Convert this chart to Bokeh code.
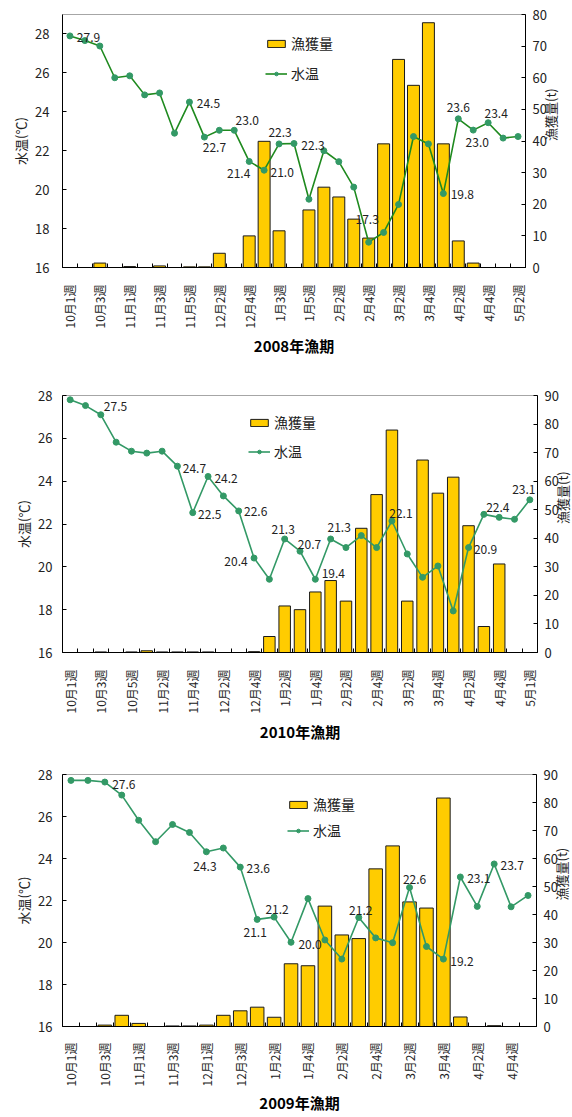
import math
from bokeh.plotting import figure
from bokeh.models import Range1d, LinearAxis, FixedTicker, Legend, LegendItem
from bokeh.layouts import column
from bokeh.embed import file_html
from bokeh.resources import INLINE
from bokeh.core.properties import value

FONT = "Noto Sans CJK JP"

# ---------------- 2008年漁期 ----------------
weeks_2008 = ["10月1週", "10月2週", "10月3週", "10月4週", "11月1週", "11月2週", "11月3週",
              "11月4週", "11月5週", "12月1週", "12月2週", "12月3週", "12月4週", "1月2週",
              "1月3週", "1月4週", "1月5週", "2月1週", "2月2週", "2月3週", "2月4週", "3月1週",
              "3月2週", "3月3週", "3月4週", "4月1週", "4月2週", "4月3週", "4月4週", "5月1週",
              "5月2週"]
catch_2008 = [0, 0, 1.4, 0, 0.3, 0, 0.5, 0, 0.2, 0.2, 4.5, 0, 10.0, 39.9, 11.6, 0, 18.2,
              25.4, 22.3, 15.3, 9.3, 39.1, 65.8, 57.6, 77.4, 39.1, 8.4, 1.4, 0, 0, 0]
temp_2008 = [27.9, 27.66, 27.38, 25.75, 25.85, 24.87, 24.97, 22.9, 24.5, 22.7, 23.05, 23.05,
             21.45, 21.0, 22.35, 22.37, 19.51, 22.0, 21.44, 20.13, 17.3, 17.8, 19.24, 22.73,
             22.35, 19.8, 23.64, 23.06, 23.44, 22.65, 22.73]
label_cat_2008 = [1, 9, 10, 12, 13, 14, 15, 16, 21, 26, 27, 28, 29]
label_text_2008 = ["27.9", "24.5", "22.7", "23.0", "21.4", "21.0", "22.3", "22.3", "17.3",
                   "19.8", "23.6", "23.0", "23.4"]

# ---------------- 2010年漁期 ----------------
weeks_2010 = ["10月1週", "10月2週", "10月3週", "10月4週", "10月5週", "11月1週", "11月2週",
              "11月3週", "11月4週", "12月1週", "12月2週", "12月3週", "12月4週", "1月1週",
              "1月2週", "1月3週", "1月4週", "2月1週", "2月2週", "2月3週", "2月4週", "3月1週",
              "3月2週", "3月3週", "3月4週", "4月1週", "4月2週", "4月3週", "4月4週", "4月5週",
              "5月1週"]
catch_2010 = [0, 0, 0.2, 0, 0.2, 0.6, 0.2, 0.2, 0.2, 0.2, 0, 0, 0.3, 5.6, 16.3, 15.0, 21.2,
              25.2, 18.0, 43.5, 55.3, 77.9, 18.0, 67.4, 55.8, 61.4, 44.4, 9.1, 31.0, 0, 0]
temp_2010 = [27.80, 27.53, 27.10, 25.82, 25.40, 25.31, 25.40, 24.70, 22.53, 24.22, 23.31,
             22.61, 20.41, 19.42, 21.30, 20.73, 19.42, 21.30, 20.90, 21.46, 20.90, 22.14,
             20.60, 19.51, 20.04, 17.94, 20.90, 22.45, 22.31, 22.22, 23.13]
label_cat_2010 = [2, 8, 9, 10, 12, 13, 15, 16, 17, 18, 22, 27, 28, 31]
label_text_2010 = ["27.5", "24.7", "22.5", "24.2", "22.6", "20.4", "21.3", "20.7", "19.4",
                   "21.3", "22.1", "20.9", "22.4", "23.1"]

# ---------------- 2009年漁期 ----------------
weeks_2009 = ["10月1週", "10月2週", "10月3週", "10月4週", "11月1週", "11月2週", "11月3週",
              "11月4週", "12月1週", "12月2週", "12月3週", "12月4週", "1月2週", "1月3週",
              "1月4週", "2月1週", "2月2週", "2月3週", "2月4週", "3月1週", "3月2週", "3月3週",
              "3月4週", "4月1週", "4月2週", "4月3週", "4月4週", "4月5週"]
catch_2009 = [0, 0, 0.5, 4.0, 1.1, 0, 0.2, 0.2, 0.5, 4.0, 5.6, 6.9, 3.3, 22.4, 21.7, 43.0,
              32.7, 31.4, 56.3, 64.5, 44.5, 42.3, 81.6, 3.4, 0, 0.3, 0, 0]
temp_2009 = [27.72, 27.72, 27.64, 27.02, 25.82, 24.80, 25.62, 25.24, 24.32, 24.50, 23.59,
             21.10, 21.21, 20.01, 22.09, 20.12, 19.21, 21.19, 20.22, 19.99, 22.62, 19.81,
             19.21, 23.12, 21.72, 23.74, 21.70, 22.24]
label_cat_2009 = [3, 9, 11, 12, 13, 14, 18, 21, 23, 24, 26]
label_text_2009 = ["27.6", "24.3", "23.6", "21.1", "21.2", "20.0", "21.2", "22.6", "19.2",
                   "23.1", "23.7"]

# label screen offsets (style only): (dx, dy) in px, dy positive = down
off_2008 = [(18.5, 2), (19, 1), (10, 10), (13, -10), (-10.5, 12), (18, 2), (1, -11), (19, 2),
            (-1.5, -23), (19, 1), (0, -11), (4, 12), (8, -9)]
off_2010 = [(30, 1), (17, 2), (17, 2), (18, 2), (17, 1), (-18, 3), (-1.5, -9), (9.5, -7),
            (18, -6), (8.5, -11), (9, -8), (17, 2), (14, -7), (-6, -10)]
off_2009 = [(19, 2), (-1.5, 15), (18, 1), (-2, 13), (3, -8), (19, 2), (2, -7), (5, -8),
            (18.5, 2), (18.5, 2), (18, 2)]

VERT = math.pi / 2


def panel(weeks, catch, temp, lab_cat, lab_text, lab_off, title, tmax, cmax,
          fw, fh, bl, br, bt, bb, line_col, mark_col, leg_loc, leg_sp, lstand,
          xstand, tstand, bar_w):
    n = len(weeks)
    xs = list(range(1, n + 1))
    p = figure(frame_width=fw, frame_height=fh, x_range=Range1d(0.5, n + 0.5),
               y_range=Range1d(16, tmax), output_backend="svg", toolbar_location=None,
               min_border_left=bl, min_border_right=br, min_border_top=bt,
               min_border_bottom=bb)
    p.background_fill_color = "white"
    p.border_fill_color = "white"
    p.outline_line_color = "#a6a6a6"
    p.xgrid.visible = False
    p.ygrid.visible = False
    p.extra_y_ranges = {"catch": Range1d(0, cmax)}

    # x axis
    xa = p.xaxis[0]
    xa.ticker = FixedTicker(ticks=xs[::2], minor_ticks=[x - 0.5 for x in xs] + [n + 0.5])
    xa.major_label_overrides = {x: weeks[x - 1] for x in xs[::2]}
    xa.major_label_orientation = VERT
    xa.major_tick_line_color = None
    xa.minor_tick_in = 4
    xa.minor_tick_out = 0
    xa.minor_tick_line_color = "black"
    xa.axis_line_color = "black"
    xa.major_label_standoff = xstand
    xa.major_label_text_font = FONT
    xa.major_label_text_font_size = "12px"
    xa.major_label_text_color = "#222222"
    xa.axis_label = title
    xa.axis_label_text_font = FONT
    xa.axis_label_text_font_size = "15px"
    xa.axis_label_text_font_style = "bold"
    xa.axis_label_text_color = "black"
    xa.axis_label_standoff = tstand

    # left axis
    ya = p.yaxis[0]
    ya.ticker = FixedTicker(ticks=list(range(16, 29, 2)))
    ya.major_tick_in = 4
    ya.major_tick_out = 0
    ya.minor_tick_line_color = None
    ya.axis_line_color = "black"
    ya.major_label_standoff = lstand
    ya.major_label_text_font = FONT
    ya.major_label_text_font_size = "13px"
    ya.major_label_text_color = "#222222"
    ya.axis_label = "水温(℃)"
    ya.axis_label_text_font = FONT
    ya.axis_label_text_font_size = "13px"
    ya.axis_label_text_font_style = "normal"
    ya.axis_label_text_color = "#222222"
    ya.axis_label_standoff = 2

    # right axis
    ra = LinearAxis(y_range_name="catch",
                    ticker=FixedTicker(ticks=list(range(0, cmax + 1, 10))))
    ra.major_tick_in = 4
    ra.major_tick_out = 0
    ra.minor_tick_line_color = None
    ra.axis_line_color = "black"
    ra.major_label_standoff = 7
    ra.major_label_text_font = FONT
    ra.major_label_text_font_size = "13px"
    ra.major_label_text_color = "#222222"
    ra.axis_label = "漁獲量(t)"
    ra.axis_label_text_font = FONT
    ra.axis_label_text_font_size = "13px"
    ra.axis_label_text_font_style = "normal"
    ra.axis_label_text_color = "#222222"
    ra.axis_label_standoff = 1
    if "axis_label_orientation" in LinearAxis.properties():
        ra.axis_label_orientation = VERT
    p.add_layout(ra, "right")

    bars = p.vbar(x=xs, top=catch, bottom=0, width=bar_w, y_range_name="catch",
                  fill_color="#FFCC00", line_color="#1a1a1a", line_width=1)
    ln = p.line(xs, temp, line_color=line_col, line_width=1.6)
    sc = p.scatter(xs, temp, size=6, fill_color=mark_col, line_color=mark_col)

    p.text(x=lab_cat, y=[temp[c - 1] for c in lab_cat], text=lab_text,
           x_offset=[o[0] for o in lab_off], y_offset=[o[1] for o in lab_off],
           text_align="center", text_baseline="middle", text_font=value(FONT),
           text_font_size="12px", text_color="#222222")

    leg = Legend(items=[LegendItem(label="漁獲量", renderers=[bars]),
                        LegendItem(label="水温", renderers=[ln, sc])],
                 location=leg_loc, orientation="vertical")
    leg.border_line_alpha = 0
    leg.background_fill_alpha = 0
    leg.padding = 0
    leg.margin = 0
    leg.spacing = leg_sp
    leg.glyph_width = 22
    leg.glyph_height = 9
    leg.label_height = 20
    leg.label_standoff = 4
    leg.label_text_font = FONT
    leg.label_text_font_size = "14px"
    leg.label_text_color = "#222222"
    p.add_layout(leg)
    return p


p1 = panel(weeks_2008, catch_2008, temp_2008, label_cat_2008, label_text_2008, off_2008,
           "2008年漁期", 29, 80, 463, 253, 62, 47, 14, 93,
           "#1f8a1f", "#339966", (203, 184), 10, 13, 11, 4, 0.8)
p2 = panel(weeks_2010, catch_2010, temp_2010, label_cat_2010, label_text_2010, off_2010,
           "2010年漁期", 28, 90, 475, 257, 54, 43, 35, 93,
           "#339966", "#339966", (186, 191), 9, 10, 11, 5, 0.75)
p3 = panel(weeks_2009, catch_2009, temp_2009, label_cat_2009, label_text_2009, off_2009,
           "2009年漁期", 28, 90, 474, 252, 54, 44, 29, 90,
           "#339966", "#339966", (225, 186), 6, 10, 10, 3, 0.8)

layout = column(p1, p2, p3, spacing=0)
open("out.html", "w").write(file_html(layout, INLINE))
